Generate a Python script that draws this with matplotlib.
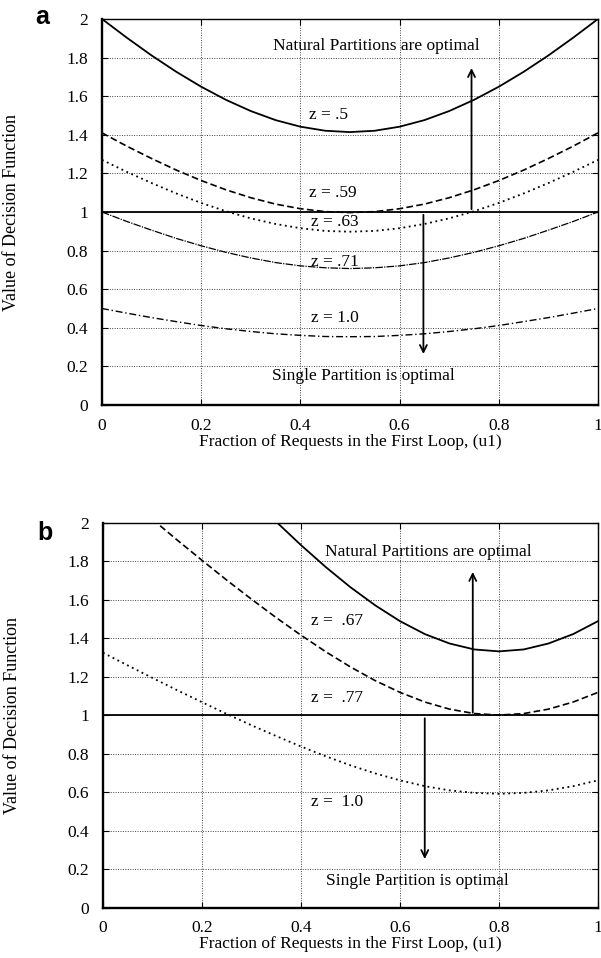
import matplotlib
matplotlib.use("Agg")
import matplotlib.pyplot as plt

plt.rcParams['font.family'] = ['Liberation Serif', 'DejaVu Serif']
plt.rcParams['font.size'] = 12.5
plt.rcParams['lines.solid_joinstyle'] = 'round'

# panel a: curves sampled every 0.05 of u1
u_a = [0.00, 0.05, 0.10, 0.15, 0.20, 0.25, 0.30, 0.35, 0.40, 0.45, 0.50,
       0.55, 0.60, 0.65, 0.70, 0.75, 0.80, 0.85, 0.90, 0.95, 1.00]
a_z50 = [2.000, 1.903, 1.811, 1.726, 1.649, 1.581, 1.523, 1.476, 1.442, 1.421, 1.414,
         1.421, 1.442, 1.476, 1.523, 1.581, 1.649, 1.726, 1.811, 1.903, 2.000]
a_z59 = [1.410, 1.341, 1.277, 1.217, 1.163, 1.115, 1.074, 1.041, 1.017, 1.002, 0.997,
         1.002, 1.017, 1.041, 1.074, 1.115, 1.163, 1.217, 1.277, 1.341, 1.410]
a_z63 = [1.270, 1.208, 1.150, 1.096, 1.047, 1.004, 0.967, 0.938, 0.916, 0.902, 0.898,
         0.902, 0.916, 0.938, 0.967, 1.004, 1.047, 1.096, 1.150, 1.208, 1.270]
a_z71 = [1.000, 0.951, 0.906, 0.863, 0.825, 0.791, 0.762, 0.738, 0.721, 0.711, 0.707,
         0.711, 0.721, 0.738, 0.762, 0.791, 0.825, 0.863, 0.906, 0.951, 1.000]
a_z100 = [0.500, 0.476, 0.453, 0.432, 0.412, 0.395, 0.381, 0.369, 0.361, 0.355, 0.354,
          0.355, 0.361, 0.369, 0.381, 0.395, 0.412, 0.432, 0.453, 0.476, 0.500]

# panel b
u_b67 = [0.35, 0.40, 0.45, 0.50, 0.55, 0.60, 0.65, 0.70, 0.75, 0.80, 0.85,
         0.90, 0.95, 1.00]
b_z67 = [2.006, 1.885, 1.771, 1.666, 1.572, 1.490, 1.423, 1.374, 1.343, 1.333,
         1.343, 1.374, 1.423, 1.490]
u_b77 = [0.10, 0.15, 0.20, 0.25, 0.30, 0.35, 0.40, 0.45, 0.50, 0.55, 0.60,
         0.65, 0.70, 0.75, 0.80, 0.85, 0.90, 0.95, 1.00]
b_z77 = [2.019, 1.911, 1.806, 1.703, 1.604, 1.508, 1.417, 1.331, 1.252, 1.181,
         1.120, 1.070, 1.033, 1.010, 1.002, 1.010, 1.033, 1.070, 1.120]
u_b = u_a
b_z100 = [1.326, 1.260, 1.195, 1.131, 1.069, 1.008, 0.949, 0.893, 0.839, 0.788, 0.741,
          0.699, 0.663, 0.633, 0.611, 0.598, 0.593, 0.598, 0.611, 0.633, 0.663]

xticks = [0, 0.2, 0.4, 0.6, 0.8, 1]
xticklabels = ['0', '0.2', '0.4', '0.6', '0.8', '1']
yticks = [0, 0.2, 0.4, 0.6, 0.8, 1.0, 1.2, 1.4, 1.6, 1.8, 2.0]
yticklabels = ['0', '0.2', '0.4', '0.6', '0.8', '1', '1.2', '1.4', '1.6', '1.8', '2']

fig = plt.figure(figsize=(6.01, 9.58), dpi=100)
ax1 = fig.add_axes([0.1697, 0.5772, 0.8253, 0.4030])
ax2 = fig.add_axes([0.1714, 0.0522, 0.8236, 0.4019])


def style_axes(ax):
    ax.set_xlim(0, 1)
    ax.set_ylim(0, 2)
    ax.set_xticks(xticks)
    ax.set_xticklabels(xticklabels)
    ax.set_yticks(yticks)
    ax.set_yticklabels(yticklabels)
    ax.grid(True, color='#444444', linestyle=(0, (1, 1.5)), linewidth=0.7)
    ax.tick_params(direction='in', top=True, right=True, length=4,
                   labelsize=12.5)
    ax.tick_params(axis='y', pad=10)
    ax.tick_params(axis='x', pad=9)
    for s in ['left', 'bottom']:
        ax.spines[s].set_linewidth(1.7)
    for s in ['top', 'right']:
        ax.spines[s].set_linewidth(1.0)
    ax.set_ylabel('Value of Decision Function', fontsize=13)
    ax.yaxis.set_label_coords(-0.166, 0.5)
    ax.set_xlabel('Fraction of Requests in the First Loop, (u1)', fontsize=12.5,
                  labelpad=0)


# ---- panel a
style_axes(ax1)
ax1.plot(u_a, a_z50, color='black', lw=1.3)
ax1.plot(u_a, a_z59, color='black', lw=1.2, linestyle=(0, (4, 2)))
ax1.plot(u_a, a_z63, color='black', lw=1.3, linestyle=(0, (1, 2)))
ax1.plot(u_a, a_z71, color='black', lw=0.9, linestyle=(0, (6, 1, 1, 1)))
ax1.plot(u_a, a_z100, color='black', lw=1.0, linestyle=(0, (5, 2, 1, 2)))
ax1.axhline(1.0, color='black', lw=1.3)
ax1.annotate('', xy=(0.745, 1.76), xytext=(0.745, 1.0),
             arrowprops=dict(arrowstyle='->', lw=1.3, color='black'))
ax1.annotate('', xy=(0.648, 0.25), xytext=(0.648, 1.0),
             arrowprops=dict(arrowstyle='->', lw=1.3, color='black'))
ax1.text(0.344, 1.86, 'Natural Partitions are optimal', va='center')
ax1.text(0.342, 0.15, 'Single Partition is optimal', va='center')
ax1.text(0.418, 1.50, 'z = .5', va='center')
ax1.text(0.418, 1.10, 'z = .59', va='center')
ax1.text(0.422, 0.95, 'z = .63', va='center')
ax1.text(0.422, 0.74, 'z = .71', va='center')
ax1.text(0.422, 0.45, 'z = 1.0', va='center')
fig.text(0.07, 0.982, 'a', family='Liberation Sans', fontweight='bold',
         fontsize=18, ha='center', va='center')

# ---- panel b
style_axes(ax2)
ax2.plot(u_b67, b_z67, color='black', lw=1.3)
ax2.plot(u_b77, b_z77, color='black', lw=1.2, linestyle=(0, (4, 2)))
ax2.plot(u_b, b_z100, color='black', lw=1.3, linestyle=(0, (1, 2)))
ax2.axhline(1.0, color='black', lw=1.3)
ax2.annotate('', xy=(0.747, 1.76), xytext=(0.747, 1.0),
             arrowprops=dict(arrowstyle='->', lw=1.3, color='black'))
ax2.annotate('', xy=(0.65, 0.24), xytext=(0.65, 1.0),
             arrowprops=dict(arrowstyle='->', lw=1.3, color='black'))
ax2.text(0.448, 1.85, 'Natural Partitions are optimal', va='center')
ax2.text(0.45, 0.14, 'Single Partition is optimal', va='center')
ax2.text(0.42, 1.49, 'z =  .67', va='center')
ax2.text(0.42, 1.09, 'z =  .77', va='center')
ax2.text(0.42, 0.55, 'z =  1.0', va='center')
fig.text(0.075, 0.444, 'b', family='Liberation Sans', fontweight='bold',
         fontsize=18, ha='center', va='center')

fig.savefig('out.png', dpi=100)
